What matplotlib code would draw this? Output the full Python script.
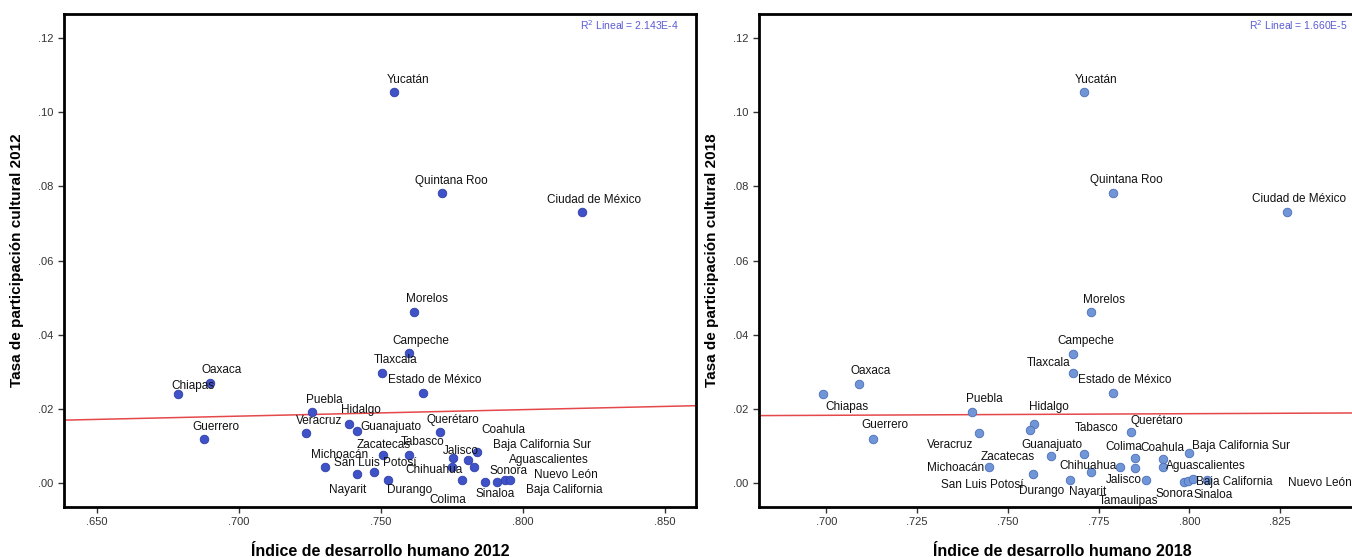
import numpy as np
import matplotlib.pyplot as plt
from matplotlib.ticker import FuncFormatter, MultipleLocator

plt.rcParams['font.family'] = ['Liberation Sans', 'DejaVu Sans']

# --- 2012 ---
states_2012 = ['Yucatán', 'Quintana Roo', 'Ciudad de México', 'Morelos', 'Campeche',
               'Tlaxcala', 'Estado de México', 'Oaxaca', 'Chiapas', 'Guerrero', 'Puebla',
               'Hidalgo', 'Veracruz', 'Guanajuato', 'Querétaro', 'Zacatecas', 'Tabasco',
               'Michoacán', 'San Luis Potosí', 'Nayarit', 'Durango', 'Jalisco', 'Coahula',
               'Baja California Sur', 'Aguascalientes', 'Chihuahua', 'Colima', 'Sinaloa',
               'Sonora', 'Baja California', 'Nuevo León']
idh_2012 = [0.7545, 0.7716, 0.8208, 0.7617, 0.7597, 0.7505, 0.7647, 0.6896, 0.6784, 0.6876,
            0.7256, 0.7388, 0.7236, 0.7416, 0.7708, 0.7508, 0.7599, 0.7304, 0.7476, 0.7416,
            0.7526, 0.7755, 0.7837, 0.7808, 0.7828, 0.7749, 0.7786, 0.7868, 0.7908, 0.7937,
            0.7955]
tasa_2012 = [0.1054, 0.0783, 0.0731, 0.0463, 0.0350, 0.0298, 0.0243, 0.0271, 0.0240, 0.0119,
             0.0193, 0.0159, 0.0135, 0.0141, 0.0137, 0.0076, 0.0076, 0.0045, 0.0031, 0.0024,
             0.0009, 0.0069, 0.0085, 0.0063, 0.0045, 0.0045, 0.0009, 0.0003, 0.0003, 0.0009,
             0.0009]

# --- 2018 ---
states_2018 = ['Yucatán', 'Quintana Roo', 'Ciudad de México', 'Morelos', 'Campeche',
               'Tlaxcala', 'Estado de México', 'Oaxaca', 'Chiapas', 'Guerrero', 'Puebla',
               'Hidalgo', 'Tabasco', 'Veracruz', 'Michoacán', 'San Luis Potosí', 'Zacatecas',
               'Guanajuato', 'Durango', 'Nayarit', 'Chihuahua', 'Colima', 'Tamaulipas',
               'Coahula', 'Aguascalientes', 'Baja California Sur', 'Jalisco', 'Querétaro',
               'Sonora', 'Sinaloa', 'Nuevo León', 'Baja California']
idh_2018 = [0.7710, 0.7790, 0.8269, 0.7728, 0.7678, 0.7678, 0.7790, 0.7089, 0.6991, 0.7129,
            0.7400, 0.7571, 0.7560, 0.7419, 0.7449, 0.7569, 0.7618, 0.7711, 0.7670, 0.7729,
            0.7809, 0.7849, 0.7849, 0.7928, 0.7928, 0.8000, 0.7880, 0.7839, 0.7985, 0.7997,
            0.8009, 0.8048]
tasa_2018 = [0.1054, 0.0783, 0.0731, 0.0463, 0.0349, 0.0298, 0.0243, 0.0268, 0.0240, 0.0119,
             0.0193, 0.0159, 0.0144, 0.0135, 0.0045, 0.0024, 0.0074, 0.0078, 0.0009, 0.0030,
             0.0045, 0.0067, 0.0042, 0.0065, 0.0045, 0.0082, 0.0009, 0.0137, 0.0003, 0.0006,
             0.0012, 0.0009]

r2_2012 = '2.143E-4'
r2_2018 = '1.660E-5'

# label placement (pixels from the point, up is positive)
off_2012 = {
    'Yucatán': (14, 12), 'Quintana Roo': (9, 12), 'Ciudad de México': (12, 12),
    'Morelos': (13, 13), 'Campeche': (12, 12), 'Tlaxcala': (13, 13),
    'Estado de México': (12, 13), 'Oaxaca': (12, 13), 'Chiapas': (15, 8),
    'Guerrero': (12, 12), 'Puebla': (13, 12), 'Hidalgo': (12, 14),
    'Veracruz': (13, 12), 'Guanajuato': (34, 4), 'Querétaro': (13, 12),
    'Coahula': (27, 22), 'Zacatecas': (0, 10), 'Tabasco': (14, 13),
    'Michoacán': (14, 12), 'San Luis Potosí': (1, 9), 'Jalisco': (7, 7),
    'Chihuahua': (-18, -3), 'Nayarit': (-10, -16), 'Durango': (21, -10),
    'Colima': (-14, -20), 'Sinaloa': (10, -12), 'Sonora': (12, 11),
    'Baja California Sur': (74, 15), 'Aguascalientes': (75, 7),
    'Nuevo León': (56, 5), 'Baja California': (59, -10),
}
off_2018 = {
    'Yucatán': (12, 12), 'Quintana Roo': (13, 13), 'Ciudad de México': (12, 13),
    'Morelos': (13, 12), 'Campeche': (13, 13), 'Tlaxcala': (-24, 10),
    'Estado de México': (12, 13), 'Oaxaca': (12, 13), 'Chiapas': (24, -13),
    'Guerrero': (12, 14), 'Puebla': (13, 13), 'Hidalgo': (15, 17),
    'Tabasco': (67, 2), 'Veracruz': (-28, -12), 'Michoacán': (-34, -1),
    'San Luis Potosí': (-51, -11), 'Zacatecas': (-43, -1), 'Guanajuato': (-33, 9),
    'Durango': (-28, -11), 'Nayarit': (-3, -20), 'Chihuahua': (-32, 1),
    'Colima': (-11, 11), 'Tamaulipas': (-6, -33), 'Coahula': (-1, 11),
    'Aguascalientes': (43, 1), 'Baja California Sur': (52, 7), 'Jalisco': (-22, 0),
    'Querétaro': (26, 11), 'Sonora': (-9, -12), 'Sinaloa': (25, -14),
    'Nuevo León': (127, -4), 'Baja California': (27, -2),
}


def dot_fmt(fmt):
    return FuncFormatter(lambda v, p: (fmt % v).replace('0.', '.', 1))


def panel(ax, names, x, y, offs, face, edge, r2, xlabel, ylabel, xlim, xstep):
    x = np.array(x)
    y = np.array(y)
    ax.scatter(x, y, s=38, c=face, edgecolors=edge, linewidths=0.6, zorder=3)
    for n, xi, yi in zip(names, x, y):
        ax.annotate(n, (xi, yi), xytext=offs[n], textcoords='offset pixels',
                    ha='center', va='center', fontsize=8.5, color='#111111', zorder=4)
    # linear fit drawn across the whole axis
    b1, b0 = np.polyfit(x, y, 1)
    xs = np.array(xlim)
    ax.plot(xs, b0 + b1 * xs, color='#e5484a', lw=1.1, zorder=2)
    ax.annotate(r'R$^2$ Lineal = ' + r2, (1, 1), xycoords='axes fraction',
                xytext=(-17, -11), textcoords='offset pixels',
                ha='right', va='center', fontsize=7.5, color='#5b5bd6')
    ax.set_xlim(xlim)
    ax.set_ylim(-0.0064, 0.1265)
    ax.xaxis.set_major_locator(MultipleLocator(xstep))
    ax.yaxis.set_major_locator(MultipleLocator(0.02))
    ax.xaxis.set_major_formatter(dot_fmt('%.3f'))
    ax.yaxis.set_major_formatter(dot_fmt('%.2f'))
    ax.tick_params(labelsize=8, colors='#333333', length=4, width=1)
    for s in ax.spines.values():
        s.set_linewidth(2)
        s.set_color('black')
    ax.set_xlabel(xlabel, fontsize=11.5, fontweight='bold', labelpad=12)
    ax.set_ylabel(ylabel, fontsize=11, fontweight='bold', labelpad=10)


fig = plt.figure(figsize=(13.52, 5.57), dpi=100)
ax1 = fig.add_axes([64 / 1352, 1 - 507 / 557, 632 / 1352, 493 / 557])
# the 2018 panel runs past the right edge of the figure
ax2 = fig.add_axes([759 / 1352, 1 - 507 / 557, 606 / 1352, 493 / 557])

panel(ax1, states_2012, idh_2012, tasa_2012, off_2012, '#4052c8', '#2f3fa8', r2_2012,
      'Índice de desarrollo humano 2012', 'Tasa de participación cultural 2012',
      (0.6383, 0.861), 0.05)
panel(ax2, states_2018, idh_2018, tasa_2018, off_2018, '#7196d8', '#4a6fb8', r2_2018,
      'Índice de desarrollo humano 2018', 'Tasa de participación cultural 2018',
      (0.6814, 0.8484), 0.025)

fig.savefig('out.png', dpi=100)
